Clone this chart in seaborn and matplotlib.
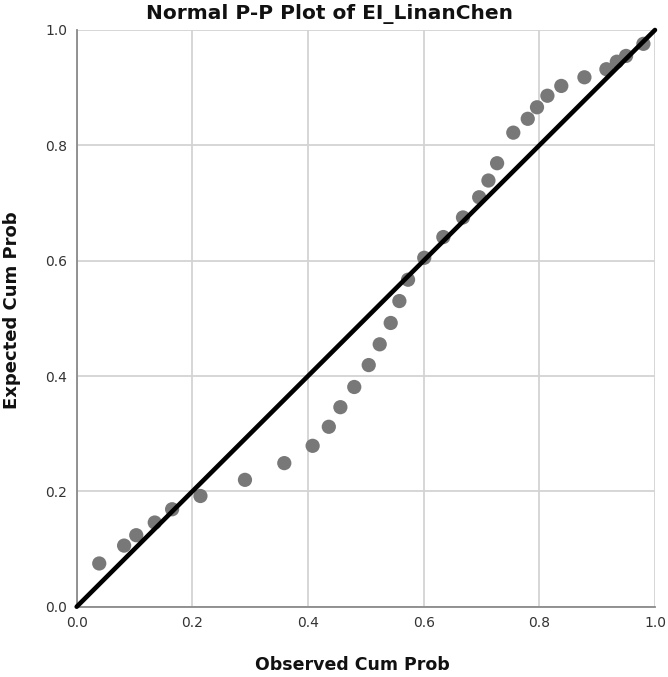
import matplotlib
matplotlib.use("Agg")
import matplotlib.pyplot as plt
import seaborn as sns
import pandas as pd

# Observed vs expected cumulative probabilities (normal P-P)
observed = [0.039, 0.082, 0.103, 0.135, 0.165, 0.214, 0.291, 0.359, 0.408, 0.436,
            0.456, 0.480, 0.505, 0.524, 0.543, 0.558, 0.573, 0.601, 0.634, 0.668,
            0.696, 0.712, 0.727, 0.755, 0.780, 0.796, 0.814, 0.838, 0.878, 0.916,
            0.934, 0.950, 0.980]
expected = [0.075, 0.106, 0.124, 0.146, 0.169, 0.192, 0.220, 0.249, 0.279, 0.312,
            0.346, 0.381, 0.419, 0.455, 0.492, 0.530, 0.567, 0.605, 0.641, 0.675,
            0.710, 0.739, 0.769, 0.822, 0.846, 0.866, 0.886, 0.903, 0.918, 0.932,
            0.945, 0.955, 0.976]
ticks = [0.0, 0.2, 0.4, 0.6, 0.8, 1.0]
tick_labels = ["0.0", "0.2", "0.4", "0.6", "0.8", "1.0"]

df = pd.DataFrame({"Observed Cum Prob": observed, "Expected Cum Prob": expected})

sns.set_style("white")
plt.rcParams["font.family"] = ["DejaVu Sans"]

fig = plt.figure(figsize=(6.68, 6.77), dpi=100)
ax = fig.add_axes([0.1148, 0.1038, 0.8657, 0.8519])

ax.set_xlim(0, 1)
ax.set_ylim(0, 1)
ax.set_xticks(ticks)
ax.set_yticks(ticks)
ax.set_xticklabels(tick_labels)
ax.set_yticklabels(tick_labels)
ax.grid(True, color="#d3d3d3", linewidth=1.3)
ax.set_axisbelow(True)

sns.scatterplot(data=df, x="Observed Cum Prob", y="Expected Cum Prob", ax=ax,
                s=105, color="#787878", edgecolor="none", zorder=3, clip_on=False)
ax.plot([0, 1], [0, 1], color="black", linewidth=3.3, zorder=4,
        solid_capstyle="round", clip_on=False)

for side in ["top", "right"]:
    ax.spines[side].set_visible(False)
for side in ["left", "bottom"]:
    ax.spines[side].set_color("#8a8a8a")
    ax.spines[side].set_linewidth(1.3)

ax.tick_params(axis="both", which="major", length=4, width=1, color="#8a8a8a",
               labelsize=10, labelcolor="#333333", pad=3)

ax.set_xlabel("")
ax.set_ylabel("")
fig.text(0.494, 0.979, "Normal P-P Plot of EI_LinanChen", ha="center", va="center",
         fontsize=14.5, fontweight="bold", color="#111111")
fig.text(0.527, 0.018, "Observed Cum Prob", ha="center", va="center",
         fontsize=12.5, fontweight="bold", color="#111111")
fig.text(0.018, 0.542, "Expected Cum Prob", ha="center", va="center",
         rotation=90, fontsize=13, fontweight="bold", color="#111111")

fig.savefig("out.png", dpi=100)
